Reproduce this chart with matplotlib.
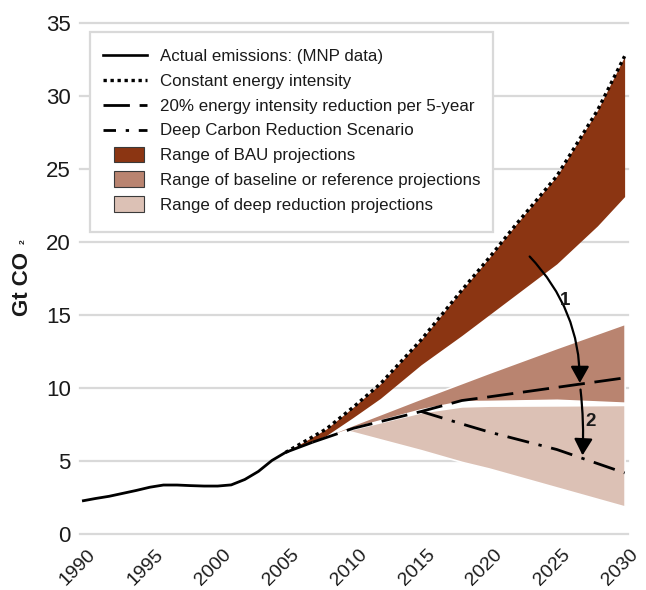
import numpy as np
import matplotlib
matplotlib.use("Agg")
import matplotlib.pyplot as plt
from matplotlib.patches import Rectangle, FancyArrowPatch, Patch
from matplotlib.lines import Line2D
from matplotlib.legend_handler import HandlerPatch
import matplotlib.transforms as mtransforms

plt.rcParams['font.family'] = ['Liberation Sans', 'DejaVu Sans']

# ---------------- data ----------------
actual_years = [1990, 1991, 1992, 1993, 1994, 1995, 1996, 1997, 1998, 1999, 2000,
                2001, 2002, 2003, 2004, 2005, 2006, 2007]
actual_vals = [2.28, 2.45, 2.6, 2.8, 3.0, 3.22, 3.37, 3.37, 3.33, 3.3, 3.3,
               3.38, 3.75, 4.3, 5.05, 5.6, 5.95, 6.3]

const_years = [2005, 2008, 2010, 2012, 2015, 2018, 2020, 2022, 2025, 2028, 2030]
const_vals = [5.6, 7.2, 8.7, 10.3, 13.3, 16.7, 18.9, 21.2, 24.5, 29.0, 32.7]
bau_low = [5.6, 6.75, 8.0, 9.3, 11.6, 13.6, 15.0, 16.4, 18.5, 21.1, 23.1]

red20_years = [2007, 2010, 2015, 2018, 2020, 2025, 2030]
red20_vals = [6.3, 7.25, 8.4, 9.15, 9.4, 10.05, 10.7]

deep_years = [2015, 2018, 2020, 2025, 2030]
deep_vals = [8.4, 7.55, 7.0, 5.8, 4.2]

base_years = [2006, 2010, 2015, 2018, 2020, 2025, 2030]
base_high = [6.0, 7.5, 9.3, 10.35, 11.05, 12.75, 14.4]
base_low = [6.0, 7.3, 8.55, 9.1, 9.12, 9.2, 9.0]

deeprange_years = [2009.5, 2015, 2018, 2020, 2025, 2030]
deeprange_high = [7.1, 8.35, 8.75, 8.8, 8.82, 8.85]
deeprange_low = [7.1, 5.75, 4.95, 4.5, 3.2, 1.9]

xtick_years = [1990, 1995, 2000, 2005, 2010, 2015, 2020, 2025, 2030]
ytick_vals = [0, 5, 10, 15, 20, 25, 30, 35]

legend_labels = ['Actual emissions: (MNP data)', 'Constant energy intensity',
                 '20% energy intensity reduction per 5-year',
                 'Deep Carbon Reduction Scenario',
                 'Range of BAU projections',
                 'Range of baseline or reference projections',
                 'Range of deep reduction projections']

c_bau = '#8b3512'
c_base = '#b98470'
c_deep = '#dcc1b5'
c_grid = '#d9d9d9'
c_text = '#1a1a1a'

W, H = 646, 590

# ---------------- figure ----------------
fig = plt.figure(figsize=(W/100, H/100), dpi=100)
ax = fig.add_axes([80/W, 55.7/H, 548/W, 511.7/H])
ax.set_xlim(1989.85, 2030.25)
ax.set_ylim(0, 35)
for s in ax.spines.values():
    s.set_visible(False)

for v in ytick_vals:
    ax.axhline(v, color=c_grid, lw=1.6, zorder=0, clip_on=False)

# ranges
ax.fill_between(deeprange_years, deeprange_low, deeprange_high, color=c_deep,
                edgecolor='white', lw=1.2, zorder=1)
ax.fill_between(base_years, base_low, base_high, color=c_base,
                edgecolor='white', lw=1.2, zorder=1)
ax.fill_between(const_years, bau_low, const_vals, color=c_bau, lw=0, zorder=1)

# lines
ax.plot(actual_years, actual_vals, color='black', lw=2.0, zorder=4,
        solid_capstyle='butt')
ax.plot(const_years, const_vals, color='black', lw=2.4, ls=(0, (1, 1.1)), zorder=4)
ax.plot(red20_years, red20_vals, color='black', lw=2.0, ls=(0, (9.5, 3.5)), zorder=4)
ax.plot(deep_years, deep_vals, color='black', lw=2.0, ls=(0, (8, 3.5, 1.2, 3.5)), zorder=4)

# arrows
arr_kw = dict(arrowstyle='-|>,head_length=0.5,head_width=0.28', mutation_scale=20,
              color='black', lw=1.6, zorder=5, shrinkA=0, shrinkB=0)
ax.add_patch(FancyArrowPatch((2023.0, 19.0), (2026.7, 10.35),
                             connectionstyle='arc3,rad=-0.2', **arr_kw))
ax.add_patch(FancyArrowPatch((2026.75, 9.9), (2026.9, 5.4),
                             connectionstyle='arc3,rad=-0.04', **arr_kw))
ax.text(2025.6, 16.0, '1', fontsize=13.5, fontweight='bold', ha='center', va='center',
        color=c_text, zorder=6)
ax.text(2027.5, 7.7, '2', fontsize=13.5, fontweight='bold', ha='center', va='center',
        color=c_text, zorder=6)

# ticks
ax.set_yticks(ytick_vals)
ax.set_yticklabels([str(v) for v in ytick_vals], fontsize=16, color=c_text)
ax.set_xticks(xtick_years)
ax.set_xticklabels([str(v) for v in xtick_years], fontsize=14, color=c_text,
                   rotation=45, ha='right', va='top', rotation_mode='anchor')
ax.tick_params(axis='both', length=0)
ax.tick_params(axis='y', pad=6.7)
ax.tick_params(axis='x', pad=8.5)
off = mtransforms.ScaledTranslation(5/100, 0, fig.dpi_scale_trans)
for lab in ax.get_xticklabels():
    lab.set_transform(lab.get_transform() + off)

# y label "Gt CO2" with tiny subscript
fig.text(22/W, 1 - 284.5/H, 'Gt CO', fontsize=16, fontweight='bold', rotation=90,
         ha='center', va='center', color=c_text)
fig.text(23/W, 1 - 242/H, '2', fontsize=6, fontweight='bold', rotation=90,
         ha='center', va='center', color=c_text)

# legend frame (drawn manually) + legend content
def ax_frac(px, py):
    return ((px - 80) / 548, (534.3 - py) / 511.7)

x0, y0 = ax_frac(90, 232)
x1, y1 = ax_frac(493, 32)
ax.add_patch(Rectangle((x0, y0), x1 - x0, y1 - y0, transform=ax.transAxes,
                       facecolor='white', edgecolor=c_grid, lw=1.6, zorder=6,
                       clip_on=False))

class NarrowPatch(HandlerPatch):
    def __init__(self):
        super().__init__(patch_func=self.make)
    @staticmethod
    def make(legend, orig_handle, xdescent, ydescent, width, height, fontsize):
        return Rectangle((-xdescent + 0.25 * width, -ydescent - 0.15 * height),
                         0.68 * width, 1.3 * height)

handles = [
    Line2D([], [], color='black', lw=1.9),
    Line2D([], [], color='black', lw=2.4, ls=(0, (1, 1.1))),
    Line2D([], [], color='black', lw=2.0, ls=(0, (9.5, 3.5))),
    Line2D([], [], color='black', lw=2.0, ls=(0, (4.5, 3.5, 1.2, 3.5))),
    Patch(facecolor=c_bau, edgecolor='#3a3a3a', lw=0.8),
    Patch(facecolor=c_base, edgecolor='#3a3a3a', lw=0.8),
    Patch(facecolor=c_deep, edgecolor='#3a3a3a', lw=0.8),
]
hm = {h: NarrowPatch() for h in handles[4:]}
leg = ax.legend(handles, legend_labels, loc='upper left',
                bbox_to_anchor=ax_frac(103, 49),
                borderaxespad=0, fontsize=12.2, frameon=False,
                handlelength=2.6, handletextpad=0.75,
                labelspacing=0.58, borderpad=0, handler_map=hm)
leg.set_zorder(7)
for t in leg.get_texts():
    t.set_color(c_text)

fig.savefig('out.png', dpi=100, facecolor='white')
